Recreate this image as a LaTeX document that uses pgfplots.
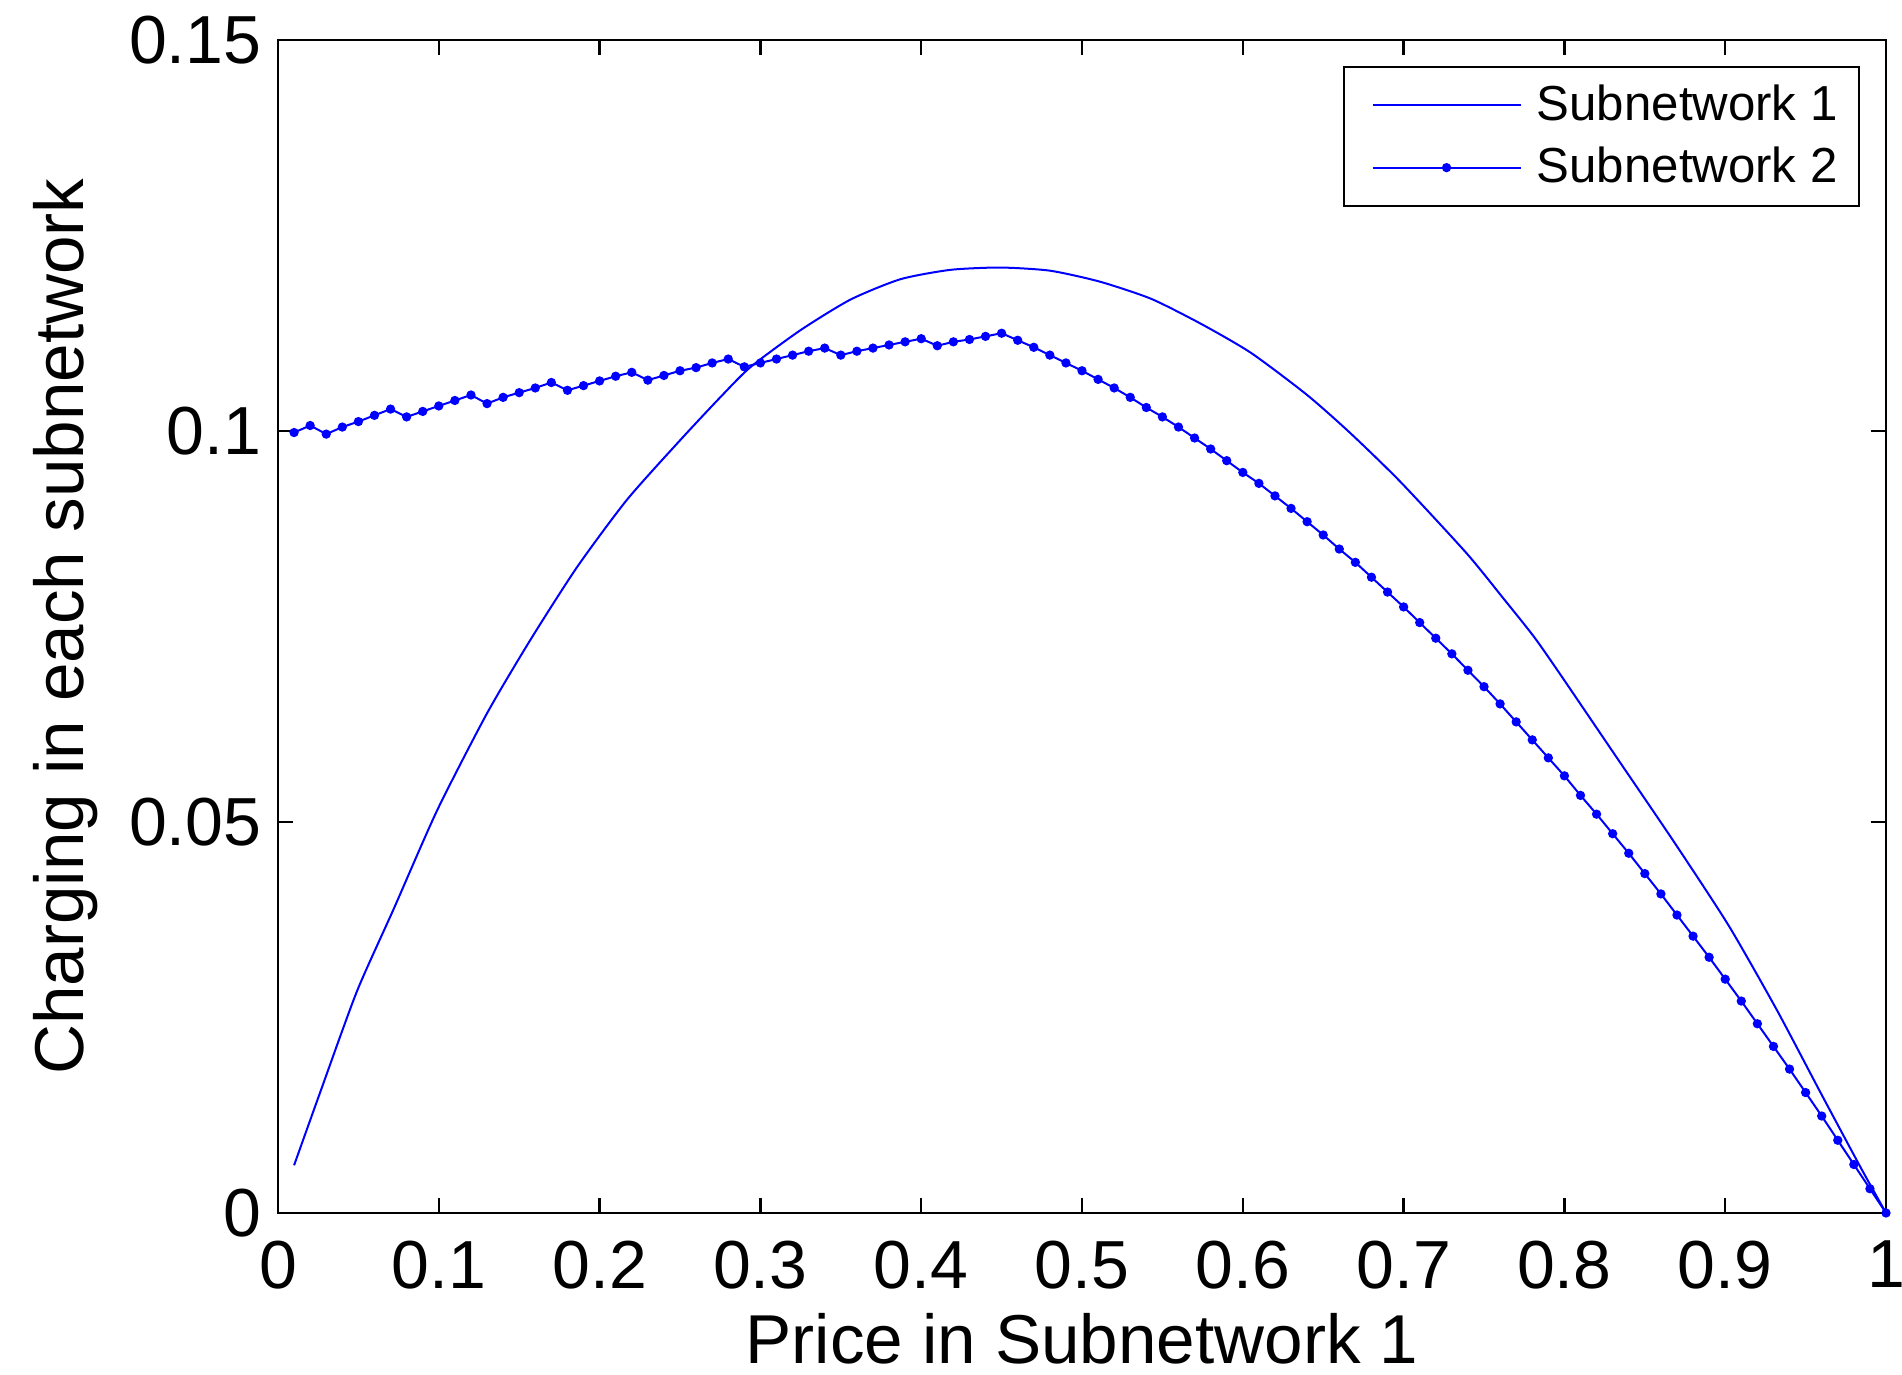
\documentclass[border=0pt]{standalone}
\usepackage{fontspec}
\setmainfont{Liberation Sans}
\usepackage{pgfplots}
\pgfplotsset{compat=1.18}
\definecolor{mblue}{rgb}{0,0,1}
\begin{document}
\begin{tikzpicture}
\begin{axis}[
  scale only axis,
  width=402pt, height=293.25pt,
  xmin=0, xmax=1, ymin=0, ymax=0.15,
  xtick={0,0.1,0.2,0.3,0.4,0.5,0.6,0.7,0.8,0.9,1},
  xticklabels={0,0.1,0.2,0.3,0.4,0.5,0.6,0.7,0.8,0.9,1},
  ytick={0,0.05,0.1,0.15},
  yticklabels={0,0.05,0.1,0.15},
  scaled ticks=false,
  /pgf/number format/assume math mode=true,
  tick align=inside,
  major tick length=3.8pt,
  tick style={black, line width=0.6pt},
  axis line style={black, line width=0.7pt},
  ticklabel style={font=\fontsize{17}{20}\selectfont},
  xticklabel style={yshift=-3.5pt},
  yticklabel style={xshift=-0.6pt},
  label style={font=\fontsize{17.3}{20}\selectfont},
  xlabel style={yshift=0.8pt},
  ylabel style={yshift=1pt},
  xlabel={Price in Subnetwork 1},
  ylabel={Charging in each subnetwork},
  clip=false,
  legend style={at={(rel axis cs:1,1)}, anchor=north east, xshift=-6.4pt, yshift=-6.4pt,
    font=\fontsize{12.3}{14}\selectfont, draw=black, line width=0.6pt,
    inner xsep=3.4pt, inner ysep=2.4pt, row sep=1.2pt},
  legend cell align=left,
  legend image code/.code={\path (0pt,0pt) (42.3pt,0pt);\draw[mark repeat=2,mark phase=2] plot coordinates {(3.5pt,0pt) (22pt,0pt) (40.5pt,0pt)};},
]
\addplot[mblue, line width=0.5pt, no markers, smooth, tension=0.4] coordinates {
(0.010,0.0061) (0.026,0.0153) (0.049,0.0283) (0.072,0.0389) (0.099,0.0515)
(0.130,0.0639) (0.157,0.0733) (0.186,0.0826) (0.217,0.0912) (0.250,0.0988)
(0.275,0.1043) (0.294,0.1082) (0.325,0.1129) (0.356,0.1168) (0.387,0.1194)
(0.418,0.1206) (0.449,0.1209) (0.480,0.1205) (0.511,0.1191) (0.543,0.1169)
(0.574,0.1137) (0.605,0.1100) (0.640,0.1046) (0.667,0.0997) (0.698,0.0935)
(0.739,0.0844) (0.762,0.0786) (0.781,0.0737) (0.797,0.0690) (0.833,0.0581)
(0.868,0.0475) (0.902,0.0368) (0.932,0.0260) (0.959,0.0155) (0.984,0.0059)
(1.000,0.0000)
};
\addlegendentry{Subnetwork 1}
\addplot[mblue, line width=0.5pt, mark=*, mark size=0.9pt, mark options={solid, fill=mblue, draw=mblue}] coordinates {
(0.01,0.0998) (0.02,0.1007) (0.03,0.0996) (0.04,0.1005) (0.05,0.1012)
(0.06,0.1020) (0.07,0.1028) (0.08,0.1018) (0.09,0.1025) (0.10,0.1032)
(0.11,0.1039) (0.12,0.1046) (0.13,0.1035) (0.14,0.1043) (0.15,0.1049)
(0.16,0.1055) (0.17,0.1062) (0.18,0.1052) (0.19,0.1058) (0.20,0.1064)
(0.21,0.1070) (0.22,0.1075) (0.23,0.1065) (0.24,0.1071) (0.25,0.1077)
(0.26,0.1081) (0.27,0.1087) (0.28,0.1092) (0.29,0.1082) (0.30,0.1087)
(0.31,0.1092) (0.32,0.1097) (0.33,0.1102) (0.34,0.1106) (0.35,0.1097)
(0.36,0.1102) (0.37,0.1106) (0.38,0.1110) (0.39,0.1114) (0.40,0.1118)
(0.41,0.1109) (0.42,0.1114) (0.43,0.1117) (0.44,0.1121) (0.45,0.1125)
(0.46,0.1116) (0.47,0.1107) (0.48,0.1097) (0.49,0.1087) (0.50,0.1077)
(0.51,0.1066) (0.52,0.1055) (0.53,0.1043) (0.54,0.1030) (0.55,0.1018)
(0.56,0.1005) (0.57,0.0991) (0.58,0.0977) (0.59,0.0962) (0.60,0.0947)
(0.61,0.0933) (0.62,0.0917) (0.63,0.0901) (0.64,0.0884) (0.65,0.0867)
(0.66,0.0849) (0.67,0.0832) (0.68,0.0813) (0.69,0.0794) (0.70,0.0775)
(0.71,0.0755) (0.72,0.0735) (0.73,0.0715) (0.74,0.0694) (0.75,0.0673)
(0.76,0.0651) (0.77,0.0628) (0.78,0.0605) (0.79,0.0582) (0.80,0.0559)
(0.81,0.0534) (0.82,0.0510) (0.83,0.0485) (0.84,0.0460) (0.85,0.0434)
(0.86,0.0408) (0.87,0.0381) (0.88,0.0354) (0.89,0.0327) (0.90,0.0299)
(0.91,0.0271) (0.92,0.0242) (0.93,0.0213) (0.94,0.0184) (0.95,0.0154)
(0.96,0.0124) (0.97,0.0093) (0.98,0.0062) (0.99,0.0031) (1.00,0.0000)
};
\addlegendentry{Subnetwork 2}
\coordinate (sw) at (rel axis cs:0,0);
\coordinate (ne) at (rel axis cs:1,1);
\end{axis}
\pgfresetboundingbox
\path[use as bounding box] ([shift={(-69.5pt,-40.5pt)}]sw) rectangle ([shift={(4pt,10pt)}]ne);
\end{tikzpicture}
\end{document}
